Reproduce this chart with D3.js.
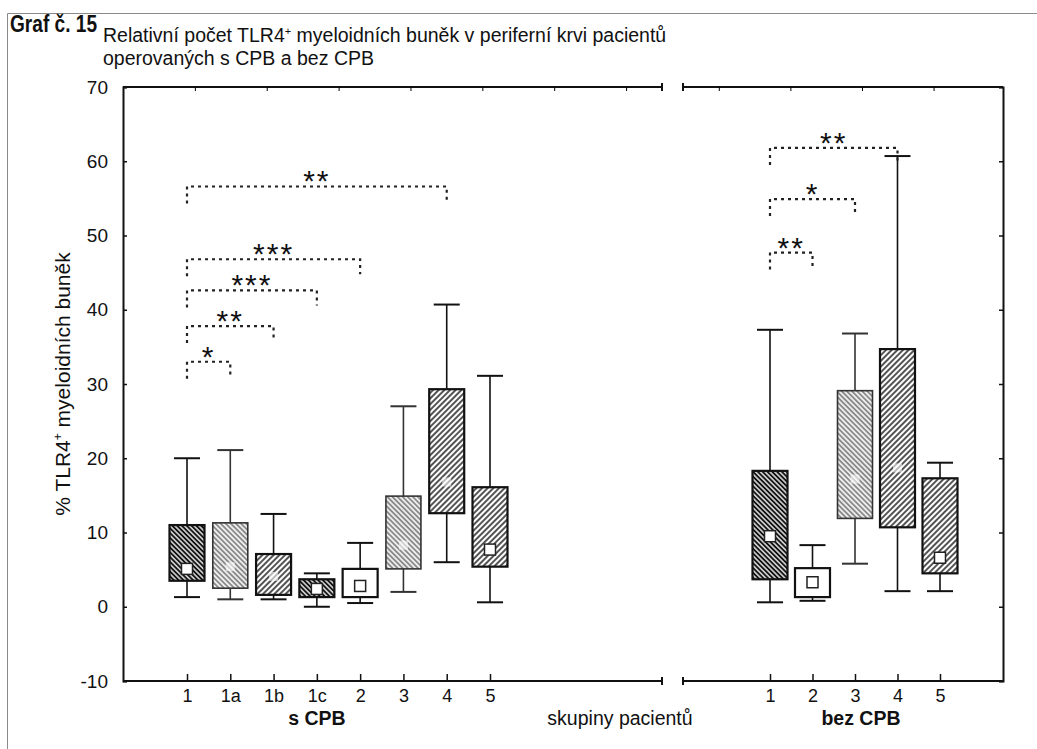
<!DOCTYPE html>
<html>
<head>
<meta charset="utf-8">
<script src="https://cdn.jsdelivr.net/npm/d3@7"></script>
<style>
    body { margin: 0; background: #fff; }
    svg { display: block; }
    text { font-family: "Liberation Sans", Arial, sans-serif; fill: #111; }
</style>
</head>
<body>
<svg id="chart" width="1037" height="749"></svg>
<script>
'use strict';

// skupiny s CPB
var groupsCpb = ['1', '1a', '1b', '1c', '2', '3', '4', '5'];
var whiskerLowCpb = [1.3, 1.0, 1.0, 0.0, 0.5, 2.0, 6.0, 0.6];
var boxLowCpb = [3.5, 2.5, 1.6, 1.3, 1.3, 5.1, 12.6, 5.4];
var markerCpb = [5.1, 5.4, 4.1, 2.4, 2.8, 8.3, 16.8, 7.7];
var boxHighCpb = [11.0, 11.3, 7.1, 3.7, 5.1, 14.9, 29.3, 16.1];
var whiskerHighCpb = [20.0, 21.1, 12.5, 4.5, 8.6, 27.0, 40.7, 31.1];

// skupiny bez CPB
var groupsBez = ['1', '2', '3', '4', '5'];
var whiskerLowBez = [0.6, 0.8, 5.8, 2.1, 2.1];
var boxLowBez = [3.7, 1.3, 11.9, 10.7, 4.5];
var markerBez = [9.5, 3.3, 17.2, 18.7, 6.6];
var boxHighBez = [18.3, 5.2, 29.1, 34.7, 17.3];
var whiskerHighBez = [37.3, 8.3, 36.8, 60.7, 19.4];

var yTicks = [-10, 0, 10, 20, 30, 40, 50, 60, 70];

// significance brackets
var bracketFromCpb = ['1', '1', '1', '1', '1'];
var bracketToCpb = ['1a', '1b', '1c', '2', '4'];
var bracketLevelCpb = [33.0, 37.8, 42.6, 46.8, 56.6];
var bracketStarsCpb = ['*', '**', '***', '***', '**'];

var bracketFromBez = ['1', '1', '1'];
var bracketToBez = ['2', '3', '4'];
var bracketLevelBez = [47.7, 54.9, 61.8];
var bracketStarsBez = ['**', '*', '**'];

// fill style per box (pattern ids), marker visibility
var fillCpb = ['dark', 'light', 'medium', 'dark', 'white', 'light', 'medium', 'medium'];
var fillBez = ['dark', 'white', 'light', 'medium', 'medium'];
var faintMarkerCpb = [false, true, true, false, false, true, true, false];
var faintMarkerBez = [false, false, true, true, false];

(function() {
    var svg = d3.select('#chart');
    var defs = svg.append('defs');

    var layout = {
        top: 87, bottom: 681,
        left: { x0: 123, x1: 662, first: 187, last: 490 },
        right: { x0: 683, x1: 1003, first: 770, last: 940 },
        boxW: 35, capW: 26, leg: 17
    };

    var y = d3.scaleLinear().domain([-10, 70]).range([layout.bottom, layout.top]);
    var xL = d3.scalePoint().domain(groupsCpb).range([layout.left.first, layout.left.last]);
    var xR = d3.scalePoint().domain(groupsBez).range([layout.right.first, layout.right.last]);

    var patterns = {
        dark: { gap: 3.4, color: '#111', width: 2.1, angle: -45, bg: '#fff' },
        medium: { gap: 4, color: '#1a1a1a', width: 1.5, angle: 45, bg: '#fff' },
        light: { gap: 3.6, color: '#6e6e6e', width: 1.4, angle: -45, bg: '#eee' }
    };

    /**
     * Hatched fill used for the boxes
     */
    Object.keys(patterns).forEach(function(key) {
        var p = patterns[key];
        var pat = defs.append('pattern')
            .attr('id', 'pat-' + key)
            .attr('patternUnits', 'userSpaceOnUse')
            .attr('width', p.gap)
            .attr('height', p.gap)
            .attr('patternTransform', 'rotate(' + p.angle + ')');
        pat.append('rect').attr('width', p.gap).attr('height', p.gap).attr('fill', p.bg);
        pat.append('line')
            .attr('x1', p.gap / 2).attr('y1', 0)
            .attr('x2', p.gap / 2).attr('y2', p.gap)
            .attr('stroke', p.color)
            .attr('stroke-width', p.width);
    });

    function fillFor(key) {
        return key === 'white' ? '#fff' : 'url(#pat-' + key + ')';
    }

    // outer frame of the figure
    svg.append('path')
        .attr('d', 'M7.5,749V13.5H1037')
        .attr('fill', 'none')
        .attr('stroke', '#8a8a8a')
        .attr('stroke-width', 1);

    // titles
    svg.append('text')
        .attr('x', 10).attr('y', 32)
        .attr('textLength', 87)
        .attr('lengthAdjust', 'spacingAndGlyphs')
        .style('font-family', '"Liberation Sans Narrow", "Liberation Sans", Arial, sans-serif')
        .style('font-weight', 'bold')
        .style('font-size', '23px')
        .text('Graf č. 15');

    var title = svg.append('text')
        .attr('x', 103).attr('y', 42)
        .style('font-size', '19.5px');
    title.append('tspan').text('Relativní počet TLR4');
    title.append('tspan').attr('dy', -7).style('font-size', '11px').text('+');
    title.append('tspan').attr('dy', 7).text(' myeloidních buněk v periferní krvi pacientů');

    svg.append('text')
        .attr('x', 103).attr('y', 65)
        .style('font-size', '19.5px')
        .text('operovaných s CPB a bez CPB');

    // y axis (left, with labels) and right axis (ticks only)
    var gy = svg.append('g')
        .attr('transform', 'translate(' + layout.left.x0 + ',0)')
        .call(d3.axisLeft(y).tickValues(yTicks).tickSize(-4).tickPadding(15)
            .tickFormat(function(d) { return String(d); }));
    gy.selectAll('text').style('font-size', '19px').style('fill', '#111');

    var gyr = svg.append('g')
        .attr('transform', 'translate(' + layout.right.x1 + ',0)')
        .call(d3.axisRight(y).tickValues(yTicks).tickSize(-4).tickFormat(''));

    [gy, gyr].forEach(function(g) {
        g.select('.domain').attr('stroke-width', 2).attr('stroke', '#111');
        g.selectAll('.tick line').attr('stroke', '#111').attr('stroke-width', 1.5);
    });

    // y label
    var ylab = svg.append('text')
        .attr('transform', 'translate(70,' + y(30) + ') rotate(-90)')
        .attr('text-anchor', 'middle')
        .style('font-size', '21px');
    ylab.append('tspan').text('% TLR4');
    ylab.append('tspan').attr('dy', -8).style('font-size', '12px').text('+');
    ylab.append('tspan').attr('dy', 8).text('  myeloidních buněk');

    /**
     * Horizontal frame lines of one panel, with the break bars
     */
    function panelFrame(p, barAt) {
        [layout.top, layout.bottom].forEach(function(yy) {
            svg.append('line')
                .attr('x1', p.x0).attr('x2', p.x1)
                .attr('y1', yy).attr('y2', yy)
                .attr('stroke', '#111').attr('stroke-width', 2);
            svg.append('line')
                .attr('x1', barAt).attr('x2', barAt)
                .attr('y1', yy - 4).attr('y2', yy + 4)
                .attr('stroke', '#111').attr('stroke-width', 2);
        });
    }
    panelFrame(layout.left, layout.left.x1);
    panelFrame(layout.right, layout.right.x0);

    // decorative top ticks
    var topL = d3.scaleLinear().domain([0, 7.5]).range([layout.left.x0, layout.left.x1]);
    var topR = d3.scaleLinear().domain([0, 4.47]).range([layout.right.x0, layout.right.x1]);
    svg.append('g')
        .attr('transform', 'translate(0,' + layout.top + ')')
        .call(d3.axisTop(topL).tickValues([1, 2, 3, 4, 5, 6, 7]).tickSize(-4).tickFormat(''))
        .call(function(g) { g.select('.domain').remove(); });
    svg.append('g')
        .attr('transform', 'translate(0,' + layout.top + ')')
        .call(d3.axisTop(topR).tickValues([0.5, 1.5, 2.5, 3.5]).tickSize(-4).tickFormat(''))
        .call(function(g) { g.select('.domain').remove(); });

    // x axes
    [xL, xR].forEach(function(x) {
        var gx = svg.append('g')
            .attr('transform', 'translate(0,' + layout.bottom + ')')
            .call(d3.axisBottom(x).tickSize(-7).tickPadding(8));
        gx.select('.domain').remove();
        gx.selectAll('.tick line').attr('stroke', '#111').attr('stroke-width', 1.5);
        gx.selectAll('text').style('font-size', '18px').style('fill', '#111');
    });

    svg.append('text')
        .attr('x', (xL('1b') + xL('2')) / 2).attr('y', 725)
        .attr('text-anchor', 'middle')
        .style('font-size', '19.5px').style('font-weight', 'bold')
        .text('s CPB');
    svg.append('text')
        .attr('x', 620).attr('y', 725)
        .attr('text-anchor', 'middle')
        .style('font-size', '19.5px')
        .text('skupiny pacientů');
    svg.append('text')
        .attr('x', xR('3') + 6).attr('y', 725)
        .attr('text-anchor', 'middle')
        .style('font-size', '19.5px').style('font-weight', 'bold')
        .text('bez CPB');

    /**
     * Draw the box plots of one panel
     */
    function drawBoxes(x, groups, wLo, bLo, mid, bHi, wHi, fills, faint) {
        var g = svg.append('g');
        groups.forEach(function(name, i) {
            var cx = x(name);
            var light = fills[i] === 'light';
            var stroke = light ? '#333' : '#111';

            g.append('line')
                .attr('x1', cx).attr('x2', cx)
                .attr('y1', y(wLo[i])).attr('y2', y(bLo[i]))
                .attr('stroke', stroke).attr('stroke-width', 1.6);
            g.append('line')
                .attr('x1', cx).attr('x2', cx)
                .attr('y1', y(bHi[i])).attr('y2', y(wHi[i]))
                .attr('stroke', stroke).attr('stroke-width', 1.6);
            [wLo[i], wHi[i]].forEach(function(v) {
                g.append('line')
                    .attr('x1', cx - layout.capW / 2).attr('x2', cx + layout.capW / 2)
                    .attr('y1', y(v)).attr('y2', y(v))
                    .attr('stroke', stroke).attr('stroke-width', 2);
            });

            g.append('rect')
                .attr('x', cx - layout.boxW / 2)
                .attr('y', y(bHi[i]))
                .attr('width', layout.boxW)
                .attr('height', y(bLo[i]) - y(bHi[i]))
                .attr('fill', fillFor(fills[i]))
                .attr('stroke', stroke)
                .attr('stroke-width', light ? 1.6 : 2.2);

            if (faint[i]) {
                g.append('rect')
                    .attr('x', cx - 4.5).attr('y', y(mid[i]) - 4.5)
                    .attr('width', 9).attr('height', 9)
                    .attr('fill', '#fff')
                    .attr('opacity', 0.6);
            } else {
                g.append('rect')
                    .attr('x', cx - 5.5).attr('y', y(mid[i]) - 5.5)
                    .attr('width', 11).attr('height', 11)
                    .attr('fill', '#fff')
                    .attr('stroke', '#222')
                    .attr('stroke-width', 1.5);
            }
        });
    }

    drawBoxes(xL, groupsCpb, whiskerLowCpb, boxLowCpb, markerCpb, boxHighCpb, whiskerHighCpb, fillCpb, faintMarkerCpb);
    drawBoxes(xR, groupsBez, whiskerLowBez, boxLowBez, markerBez, boxHighBez, whiskerHighBez, fillBez, faintMarkerBez);

    /**
     * Dotted significance brackets with stars
     */
    function drawBrackets(x, from, to, level, stars) {
        var g = svg.append('g');
        from.forEach(function(f, i) {
            var x1 = x(f);
            var x2 = x(to[i]);
            var yy = y(level[i]);

            g.append('path')
                .attr('d', 'M' + x1 + ',' + (yy + layout.leg) + 'V' + yy + 'H' + x2 + 'V' + (yy + layout.leg - 2))
                .attr('fill', 'none')
                .attr('stroke', '#222')
                .attr('stroke-width', 2.2)
                .attr('stroke-dasharray', '3,4');

            g.append('text')
                .attr('x', (x1 + x2) / 2)
                .attr('y', yy + 5)
                .attr('text-anchor', 'middle')
                .style('font-size', '30px')
                .style('letter-spacing', '2px')
                .text(stars[i]);
        });
    }

    drawBrackets(xL, bracketFromCpb, bracketToCpb, bracketLevelCpb, bracketStarsCpb);
    drawBrackets(xR, bracketFromBez, bracketToBez, bracketLevelBez, bracketStarsBez);
})();
</script>
</body>
</html>
